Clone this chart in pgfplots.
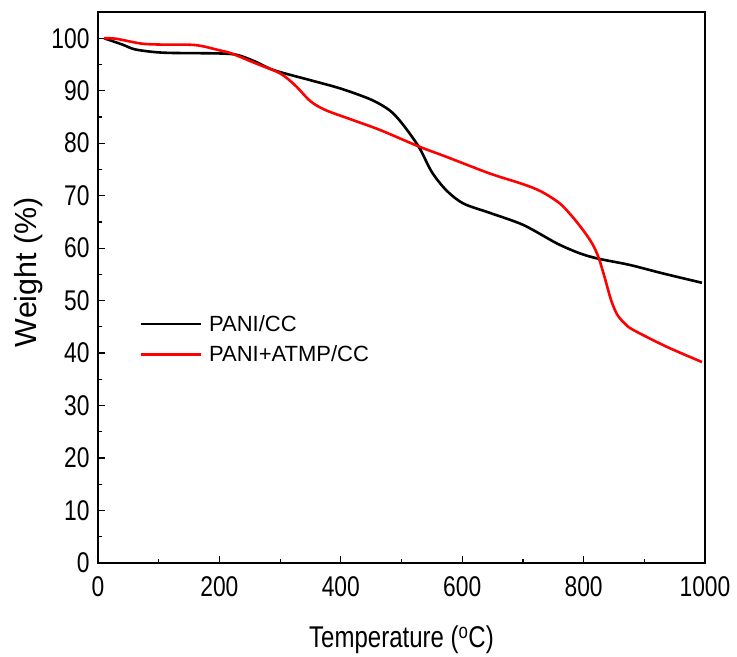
\documentclass[border=0pt]{standalone}
\usepackage{fontspec}
\setmainfont{Liberation Sans}
\newfontfamily\narrowfont{Liberation Sans}[FakeStretch=0.8]
\usepackage{pgfplots}
\pgfplotsset{compat=1.18}
\begin{document}
\begin{tikzpicture}
\begin{axis}[
  scale only axis,
  width=607bp, height=551bp,
  xmin=0, xmax=1000, ymin=0, ymax=105,
  xtick={0,200,...,1000}, minor x tick num=1,
  ytick={0,10,...,100}, minor y tick num=1,
  xtick pos=bottom, ytick pos=left,
  tick align=inside,
  major tick length=7bp, minor tick length=4bp,
  axis line style={line width=1.3bp},
  every tick/.style={line width=1.2bp, black},
  /pgf/number format/assume math mode=true,
  /pgf/number format/1000 sep={},
  ticklabel style={font=\narrowfont\fontsize{28.5bp}{30bp}\selectfont},
  yticklabel style={xshift=-5bp},
  xticklabel style={yshift=-10bp},
  xlabel={Temperature (\textsuperscript{o}C)},
  ylabel={Weight (\%)},
  xlabel style={font=\narrowfont\fontsize{30bp}{32bp}\selectfont, at={(axis description cs:0.5,-0.154)}, anchor=base},
  ylabel style={font=\fontsize{30.5bp}{32bp}\selectfont, at={(axis description cs:-0.1005,0.528)}, anchor=base, rotate=0},
  legend style={draw=none, fill=none, at={(axis description cs:0.068,0.406)}, anchor=west,
    font=\fontsize{22bp}{23bp}\selectfont, row sep=9bp, inner xsep=0pt,
    /tikz/every odd column/.append style={column sep=5bp}},
  legend cell align=left,
  legend image code/.code={\draw[#1] (0,0) -- (60bp,0);},
]
\addplot[black, line width=2.6bp, smooth] coordinates {
(10,100)(40,98.8)(60,97.9)(90,97.4)(120,97.2)(200,97.1)(230,96.8)(260,95.5)(290,93.9)(350,92.0)(400,90.4)(450,88.3)(480,86.3)(500,83.9)(528,79.4)(550,74.5)(574,71.0)(602,68.5)(646,66.7)(701,64.4)(756,60.9)(794,59.0)(824,58.0)(876,56.8)(930,55.2)(995,53.4)
};
\addlegendentry{PANI/CC}
\addplot[red, line width=2.6bp, smooth] coordinates {
(10,100)(30,99.9)(70,99.0)(100,98.8)(160,98.7)(200,97.7)(220,97.1)(260,95.2)(300,93.3)(325,91.0)(350,88.0)(375,86.3)(420,84.4)(465,82.5)(528,79.4)(574,77.4)(646,74.2)(700,72.2)(730,70.8)(760,68.6)(780,66.2)(800,63.3)(815,60.7)(825,58.1)(835,54.3)(845,50.2)(855,47.4)(868,45.6)(882,44.4)(937,41.2)(995,38.3)
};
\addlegendentry{PANI+ATMP/CC}
\end{axis}
\pgfresetboundingbox
\path[use as bounding box] ([xshift=-98bp,yshift=-94bp]current axis.south west) rectangle ([xshift=32bp,yshift=12bp]current axis.north east);
\end{tikzpicture}
\end{document}
